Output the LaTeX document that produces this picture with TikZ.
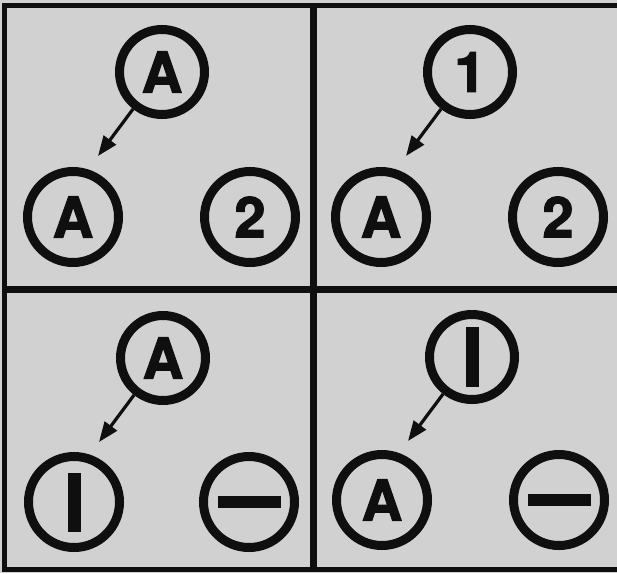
\documentclass[tikz,border=0pt]{standalone}
\usepackage{fontspec}
\newfontfamily\glyphfont[BoldFeatures={FakeBold=2.2}]{TeX Gyre Heros}
\usetikzlibrary{arrows.meta, positioning}
\definecolor{paper}{gray}{0.82}
\definecolor{ink}{gray}{0.06}

\begin{document}
\begin{tikzpicture}[
      x=1pt, y=-1pt,
      >={Triangle[length=20pt, width=15pt]},
      on grid,
      every node/.append style={font=\glyphfont\fontsize{56}{56}\selectfont\bfseries, text=ink},
      ring/.style={circle, draw=ink, line width=9pt, inner sep=0pt,
                   minimum size=91pt},
      topring/.style={ring, minimum size=85pt},
      frame/.style={draw=ink, line width=4.5pt},
      divider/.style={draw=ink, line width=7pt},
      link/.style={->, draw=ink, line width=3.2pt},
    ]
  \fill[paper] (0,0) rectangle (617,573);
  \useasboundingbox (0,0) rectangle (617,573);

  % panels
  \draw[frame] (4.7,5.3) rectangle (640,569.5);
  \draw[divider] (313,5.3) -- (313,569.5);
  \draw[divider] (4.7,289) -- (640,289);

  % upper left
  \node[topring] (ulTop) at (162,72) {A};
  \node[ring] (ulLeft) [below left=145pt and 89pt of ulTop] {A};
  \node[ring] (ulRight) [right=177pt of ulLeft] {2};
  \coordinate[below left=84pt and 64pt of ulTop] (ulTip);
  \draw[link] (ulTop.232) -- (ulTip);

  % upper right
  \node[topring] (urTop) at (470,72) {1};
  \node[ring] (urLeft) [below left=145pt and 89pt of urTop] {A};
  \node[ring] (urRight) [right=177pt of urLeft] {2};
  \coordinate[below left=84pt and 64pt of urTop] (urTip);
  \draw[link] (urTop.232) -- (urTip);

  % lower left
  \node[topring] (llTop) at (163,358) {A};
  \node[ring] (llLeft) [below left=144pt and 89pt of llTop] {\rule{13pt}{59pt}};
  \node[ring] (llRight) [right=175pt of llLeft] {\rule{63pt}{12pt}};
  \coordinate[below left=84pt and 64pt of llTop] (llTip);
  \draw[link] (llTop.232) -- (llTip);

  % lower right
  \node[topring] (lrTop) at (472,357) {\rule{13pt}{60pt}};
  \node[ring] (lrLeft) [below left=143pt and 90pt of lrTop] {A};
  \node[ring] (lrRight) [right=177pt of lrLeft] {\rule{63pt}{12pt}};
  \coordinate[below left=84pt and 64pt of lrTop] (lrTip);
  \draw[link] (lrTop.232) -- (lrTip);
\end{tikzpicture}
\end{document}
